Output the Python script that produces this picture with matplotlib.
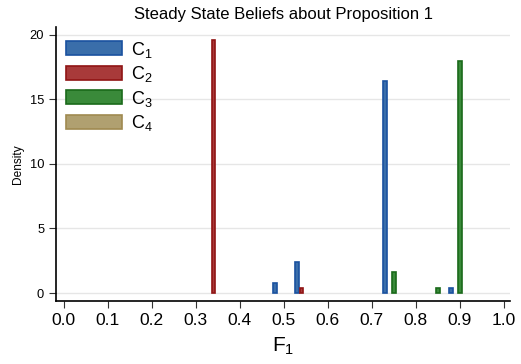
import matplotlib
matplotlib.use('Agg')
import matplotlib.pyplot as plt
from matplotlib.patches import Patch

plt.rcParams.update({'font.family': ['Liberation Sans', 'DejaVu Sans']})
plt.rcParams['mathtext.fontset'] = 'custom'
plt.rcParams['mathtext.rm'] = 'Liberation Sans'
plt.rcParams['mathtext.it'] = 'Liberation Sans'

# bar positions (F1) and densities per group
c1_x = [0.48, 0.53, 0.73, 0.88]
c1_y = [0.8, 2.4, 16.4, 0.4]
c2_x = [0.34, 0.54]
c2_y = [19.6, 0.4]
c3_x = [0.75, 0.85, 0.90]
c3_y = [1.6, 0.4, 18.0]
c4_x = []
c4_y = []

labels = ['C$_1$', 'C$_2$', 'C$_3$', 'C$_4$']
fills = ['#3a6eaa', '#a83a3a', '#3a8a3a', '#b0a070']
edges = ['#1a52a0', '#901414', '#1a6a1a', '#a08a50']

xticks = [0.0, 0.1, 0.2, 0.3, 0.4, 0.5, 0.6, 0.7, 0.8, 0.9, 1.0]
yticks = [0, 5, 10, 15, 20]

fig = plt.figure(figsize=(5.21, 3.64), dpi=100)
ax = fig.add_axes([0.1075, 0.173, 0.8715, 0.753])

groups = [(c1_x, c1_y), (c2_x, c2_y), (c3_x, c3_y), (c4_x, c4_y)]
for (gx, gy), fc, ec in zip(groups, fills, edges):
    if gx:
        ax.bar(gx, gy, width=0.008, facecolor=fc, edgecolor=ec, linewidth=1.2, zorder=3)

ax.set_xlim(-0.018, 1.014)
ax.set_ylim(-0.62, 20.6)
ax.set_xticks(xticks)
ax.set_xticklabels(['%.1f' % t for t in xticks], fontsize=12.5)
ax.set_yticks(yticks)
ax.set_yticklabels([str(t) for t in yticks], fontsize=9.3)
ax.tick_params(direction='out', length=5, width=0.8, colors='#333333', labelcolor='black')

ax.grid(axis='y', color='#e6e6e6', linewidth=1, zorder=0)
ax.set_axisbelow(True)
for s in ['top', 'right']:
    ax.spines[s].set_visible(False)
for s in ['left', 'bottom']:
    ax.spines[s].set_linewidth(1.2)

ax.set_title('Steady State Beliefs about Proposition 1', fontsize=12, pad=6)
ax.set_xlabel('F$_1$', fontsize=15, labelpad=6)
ax.set_ylabel('Density', fontsize=8.6, labelpad=4)

handles = [Patch(facecolor=fc, edgecolor=ec, linewidth=1.2) for fc, ec in zip(fills, edges)]
ax.legend(handles, labels, loc='upper left', bbox_to_anchor=(-0.005, 1.0), frameon=False,
          fontsize=13, handlelength=3.1, handleheight=0.8, labelspacing=0.25, handletextpad=0.5,
          borderaxespad=0.3)

fig.savefig('out.png', dpi=100)
